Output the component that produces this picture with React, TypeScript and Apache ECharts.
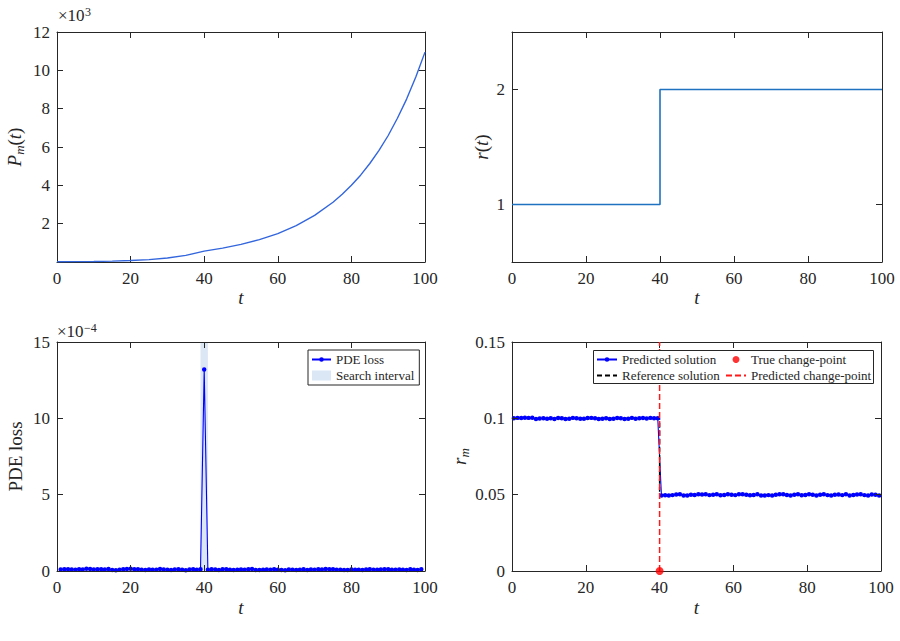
import React, { useEffect, useRef } from 'react';
import * as echarts from 'echarts';

// ---------------- data ----------------
// (a) population P_m(t)
const popT = [0, 5, 10, 15, 20, 25, 30, 35, 40, 45, 50, 55, 60, 65, 70, 75, 77.5, 80, 82.5, 85, 87.5, 90, 92.5, 95, 97.5, 100];
const popVals = [10, 17, 28, 45, 77, 125, 210, 345, 570, 725, 920, 1170, 1480, 1900, 2430, 3120, 3530, 4000, 4530, 5140, 5820, 6600, 7500, 8500, 9650, 10950];

// (b) rate r(t)
const rateT = [0, 40, 40, 100];
const rateVals = [1, 1, 2, 2];

// (c) PDE loss (units of 1e-4), t = 1..99
const lossBefore = [
  0.10, 0.12, 0.11, 0.10, 0.09, 0.11, 0.10, 0.14, 0.13, 0.10,
  0.12, 0.11, 0.10, 0.13, 0.06, 0.05, 0.08, 0.12, 0.13, 0.15,
  0.12, 0.11, 0.09, 0.07, 0.10, 0.08, 0.09, 0.13, 0.10, 0.08,
  0.07, 0.10, 0.11, 0.09, 0.05, 0.10, 0.12, 0.09, 0.12,
];
const lossPeak = [13.2];
const lossAfter = [
  0.08, 0.12, 0.10, 0.07, 0.11, 0.12, 0.09, 0.06, 0.08, 0.10,
  0.09, 0.11, 0.13, 0.07, 0.06, 0.09, 0.10, 0.08, 0.11, 0.09,
  0.07, 0.05, 0.10, 0.08, 0.06, 0.09, 0.11, 0.07, 0.10, 0.08,
  0.12, 0.10, 0.13, 0.12, 0.11, 0.08, 0.09, 0.07, 0.06, 0.10,
  0.09, 0.08, 0.07, 0.10, 0.11, 0.08, 0.09, 0.10, 0.12, 0.11,
  0.09, 0.08, 0.10, 0.09, 0.07, 0.11, 0.09, 0.06, 0.12,
];
const searchInterval = [39, 41];
const lossMax = 15;

// (d) r_m, t = 0.5 .. 99.5
const rmBefore = [
  0.1000, 0.1003, 0.1002, 0.1004, 0.1003, 0.1004, 0.0996, 0.0999, 0.1001, 0.0997,
  0.1000, 0.0996, 0.1002, 0.1001, 0.0995, 0.0997, 0.1003, 0.1001, 0.0998, 0.0997,
  0.1002, 0.1003, 0.1001, 0.0995, 0.0998, 0.1001, 0.0996, 0.0998, 0.1002, 0.1001,
  0.0996, 0.0998, 0.1003, 0.0998, 0.1000, 0.1002, 0.0999, 0.1003, 0.1001, 0.1000,
];
const rmAfter = [
  0.0494, 0.0496, 0.0494, 0.0497, 0.0501, 0.0502, 0.0495, 0.0494, 0.0500, 0.0498,
  0.0502, 0.0501, 0.0503, 0.0497, 0.0499, 0.0502, 0.0496, 0.0498, 0.0503, 0.0500,
  0.0497, 0.0503, 0.0502, 0.0500, 0.0496, 0.0498, 0.0502, 0.0494, 0.0495, 0.0497,
  0.0495, 0.0499, 0.0502, 0.0503, 0.0498, 0.0494, 0.0500, 0.0503, 0.0496, 0.0498,
  0.0503, 0.0500, 0.0494, 0.0499, 0.0502, 0.0497, 0.0495, 0.0499, 0.0501, 0.0497,
  0.0502, 0.0495, 0.0498, 0.0501, 0.0503, 0.0497, 0.0495, 0.0501, 0.0499, 0.0494,
];
const refT = [0, 40, 40, 100];
const refVals = [0.1, 0.1, 0.05, 0.05];
const changePoint = 40;
const rmMax = 0.15;

// ---------------- style ----------------
const FONT = "'Liberation Serif', 'DejaVu Serif', serif";
const INK = '#262626';
const axisLineStyle = { color: INK, width: 1 };
const dotSymbol =
  'path://M0,0 L0.05,0 L0,0.05 Z M10,10 L9.95,10 L10,9.95 Z M2.2,5 A2.8,2.8 0 1 1 7.8,5 A2.8,2.8 0 1 1 2.2,5 Z';
const noSymbol = 'path://M0,0 L0.05,0 L0,0.05 Z M10,10 L9.95,10 L10,9.95 Z';

const tickLabel = { fontFamily: FONT, fontSize: 17, color: INK };

function xPair(grid: number, nameGap: number) {
  const base: any = {
    gridIndex: grid,
    type: 'value',
    min: 0,
    max: 100,
    interval: 20,
    splitLine: { show: false },
    axisLine: { show: true, onZero: false, lineStyle: axisLineStyle },
    axisTick: { show: true, inside: true, length: 6, lineStyle: axisLineStyle },
    z: 3,
  };
  return [
    {
      ...base,
      position: 'bottom',
      axisLabel: { ...tickLabel, margin: 8 },
      name: 't',
      nameLocation: 'middle',
      nameGap,
      nameTextStyle: { fontFamily: FONT, fontStyle: 'italic', fontSize: 19, color: INK },
    },
    { ...base, position: 'top', axisLabel: { show: false } },
  ];
}

function yPair(grid: number, extra: any, label: any, name: string, nameGap: number, rich: any) {
  const base: any = {
    gridIndex: grid,
    type: 'value',
    splitLine: { show: false },
    axisLine: { show: true, onZero: false, lineStyle: axisLineStyle },
    axisTick: { show: true, inside: true, length: 6, lineStyle: axisLineStyle, ...(extra.tickExtra || {}) },
    z: 3,
    min: extra.min,
    max: extra.max,
    interval: extra.interval,
  };
  const nameTextStyle: any = { fontFamily: FONT, fontSize: 19, color: INK };
  if (rich) nameTextStyle.rich = rich;
  return [
    {
      ...base,
      position: 'left',
      axisLabel: { ...tickLabel, margin: 7, ...label },
      name,
      nameLocation: 'middle',
      nameGap,
      nameTextStyle,
    },
    { ...base, position: 'right', axisLabel: { show: false } },
  ];
}

const mathRich = {
  i: { fontFamily: FONT, fontStyle: 'italic', fontSize: 19, color: INK, lineHeight: 24, verticalAlign: 'middle' },
  n: { fontFamily: FONT, fontSize: 19, color: INK, lineHeight: 24, verticalAlign: 'middle' },
  s: { fontFamily: FONT, fontStyle: 'italic', fontSize: 13, color: INK, lineHeight: 24, verticalAlign: 'bottom' },
};

const legendText = { fontFamily: FONT, fontSize: 13, color: INK, lineHeight: 15 };

function scaleText(x: number, y: number, exp: string) {
  return [
    {
      type: 'text',
      x,
      y,
      style: { text: '×10', fontFamily: FONT, fontSize: 17, fill: INK, textVerticalAlign: 'bottom', verticalAlign: 'bottom' },
      z: 6,
    },
    {
      type: 'text',
      x: x + 27,
      y: y - 6,
      style: { text: exp, fontFamily: FONT, fontSize: 12, fill: INK, textVerticalAlign: 'bottom', verticalAlign: 'bottom' },
      z: 6,
    },
  ];
}

export default function App() {
  const ref = useRef<HTMLDivElement>(null);

  useEffect(() => {
    if (!ref.current) return;
    const chart = echarts.init(ref.current, null, { renderer: 'svg' });

    const lossVals = [...lossBefore, ...lossPeak, ...lossAfter];
    const lossData = lossVals.map((v, i) => [i + 1, v]);
    const rmVals = [...rmBefore, ...rmAfter];
    const rmData = rmVals.map((v, i) => [i + 0.5, v]);

    const xAxes = [...xPair(0, 26), ...xPair(1, 26), ...xPair(2, 27), ...xPair(3, 27)];
    const yAxes = [
      ...yPair(
        0,
        { min: 0, max: 12000, interval: 2000 },
        { formatter: (v: number) => (v === 0 ? '' : String(v / 1000)) },
        '{i|P}{s|m}{n|(}{i|t}{n|)}',
        31,
        mathRich
      ),
      ...yPair(
        1,
        { min: 0.5, max: 2.5, interval: 0.5, tickExtra: { customValues: [1, 2] } },
        { customValues: [1, 2] },
        '{i|r}{n|(}{i|t}{n|)}',
        19,
        mathRich
      ),
      ...yPair(2, { min: 0, max: lossMax, interval: 5 }, {}, 'PDE loss', 32, null),
      ...yPair(3, { min: 0, max: rmMax, interval: 0.05 }, {}, '{i|r}{s|m}', 38, mathRich),
    ];

    const option: any = {
      animation: false,
      backgroundColor: '#ffffff',
      textStyle: { fontFamily: FONT },
      grid: [
        { left: 57, top: 32, width: 368, height: 230 },
        { left: 512, top: 32, width: 370, height: 230 },
        { left: 57, top: 342, width: 368, height: 229 },
        { left: 512, top: 342, width: 369, height: 229 },
      ],
      xAxis: xAxes,
      yAxis: yAxes,
      legend: [
        {
          data: [
            { name: 'PDE loss' },
            { name: 'Search interval', icon: 'rect', itemStyle: { color: '#dbe7f5' } },
          ],
          orient: 'vertical',
          left: 308,
          top: 350,
          padding: [2, 5, 2, 3],
          itemGap: 1,
          itemWidth: 19,
          itemHeight: 10,
          borderColor: INK,
          borderWidth: 1,
          backgroundColor: '#ffffff',
          selectedMode: false,
          textStyle: legendText,
          z: 6,
        },
        {
          data: ['Predicted solution', 'Reference solution'],
          orient: 'vertical',
          left: 594,
          top: 350,
          padding: [2, 2],
          itemGap: 1,
          itemWidth: 20,
          itemHeight: 10,
          selectedMode: false,
          textStyle: legendText,
          z: 6,
        },
        {
          data: ['True change-point', 'Predicted change-point'],
          orient: 'vertical',
          left: 723,
          top: 350,
          padding: [2, 2],
          itemGap: 1,
          itemWidth: 20,
          itemHeight: 7,
          selectedMode: false,
          textStyle: legendText,
          z: 6,
        },
      ],
      graphic: [
        {
          type: 'rect',
          left: 593,
          top: 350,
          shape: { width: 280, height: 33 },
          style: { fill: '#ffffff', stroke: INK, lineWidth: 1 },
          z: 5,
        },
        ...scaleText(58, 24, '3'),
        ...scaleText(57, 340, '−4'),
      ],
      series: [
        {
          name: 'P',
          type: 'line',
          xAxisIndex: 0,
          yAxisIndex: 0,
          data: popT.map((t, i) => [t, popVals[i]]),
          showSymbol: false,
          symbol: noSymbol,
          lineStyle: { color: '#3366dd', width: 1.4 },
          itemStyle: { color: '#3366dd' },
        },
        {
          name: 'r',
          type: 'line',
          xAxisIndex: 2,
          yAxisIndex: 2,
          data: rateT.map((t, i) => [t, rateVals[i]]),
          showSymbol: false,
          symbol: noSymbol,
          lineStyle: { color: '#1f72c0', width: 1.6 },
          itemStyle: { color: '#1f72c0' },
        },
        {
          name: 'Search interval',
          type: 'line',
          xAxisIndex: 4,
          yAxisIndex: 4,
          data: searchInterval.map((t) => [t, lossMax]),
          showSymbol: false,
          symbol: noSymbol,
          lineStyle: { width: 0, color: '#dbe7f5' },
          itemStyle: { color: '#dbe7f5' },
          areaStyle: { color: '#dbe7f5', opacity: 1 },
          z: 1,
        },
        {
          name: 'PDE loss',
          type: 'line',
          xAxisIndex: 4,
          yAxisIndex: 4,
          data: lossData,
          symbol: dotSymbol,
          symbolSize: 8,
          showSymbol: true,
          lineStyle: { color: '#0000ff', width: 1.1 },
          itemStyle: { color: '#0000ff' },
          z: 2,
        },
        {
          name: 'Predicted solution',
          type: 'line',
          xAxisIndex: 6,
          yAxisIndex: 6,
          data: rmData,
          symbol: dotSymbol,
          symbolSize: 8,
          showSymbol: true,
          lineStyle: { color: '#0000ff', width: 1.1 },
          itemStyle: { color: '#0000ff' },
          z: 2,
        },
        {
          name: 'Reference solution',
          type: 'line',
          xAxisIndex: 6,
          yAxisIndex: 6,
          data: refT.map((t, i) => [t, refVals[i]]),
          showSymbol: false,
          symbol: noSymbol,
          lineStyle: { color: '#000000', width: 1.4, type: [5, 3] },
          itemStyle: { color: '#000000' },
          z: 2,
        },
        {
          name: 'Predicted change-point',
          type: 'line',
          xAxisIndex: 6,
          yAxisIndex: 6,
          data: [
            [changePoint, 0],
            [changePoint, rmMax],
          ],
          showSymbol: false,
          symbol: noSymbol,
          lineStyle: { color: '#ff1a1a', width: 1.5, type: [6, 3] },
          itemStyle: { color: '#ff1a1a' },
          z: 3,
        },
        {
          name: 'True change-point',
          type: 'scatter',
          xAxisIndex: 6,
          yAxisIndex: 6,
          data: [[changePoint, 0]],
          symbol: 'circle',
          symbolSize: 8,
          clip: false,
          itemStyle: { color: '#ff0000' },
          z: 4,
        },
      ],
    };

    chart.setOption(option);
    return () => chart.dispose();
  }, []);

  return (
    <div
      ref={ref}
      style={{ position: 'absolute', left: 0, top: 0, width: 900, height: 641, background: '#fff' }}
    />
  );
}
